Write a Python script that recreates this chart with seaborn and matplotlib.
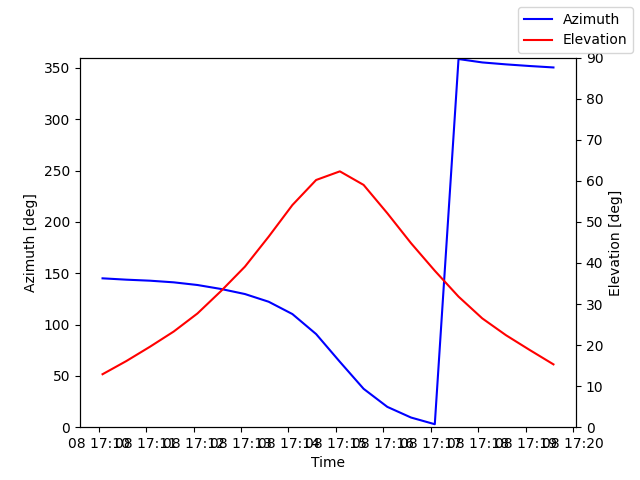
import matplotlib
matplotlib.use("Agg")
import matplotlib.pyplot as plt
import seaborn as sns
import pandas as pd

# pass samples, every 30 s
start_time = "2024-01-08 17:10:05"
n_points = 20
azimuth = [145.0, 143.7, 142.7, 141.1, 138.5, 134.6, 129.7, 122.2, 110.2, 90.7,
           63.7, 37.4, 19.8, 9.4, 2.9, 358.6, 355.3, 353.4, 351.8, 350.4]
elevation = [12.9, 16.1, 19.6, 23.3, 27.7, 33.2, 39.1, 46.4, 54.1, 60.2,
             62.3, 59.0, 52.1, 44.8, 38.1, 31.8, 26.5, 22.4, 18.8, 15.3]

times = pd.date_range(start_time, periods=n_points, freq="30s")
df = pd.DataFrame({"time": times, "azimuth": azimuth, "elevation": elevation})

fig, ax = plt.subplots(figsize=(6.4, 4.8), dpi=100)
sns.lineplot(data=df, x="time", y="azimuth", color="blue", label="Azimuth", ax=ax, legend=False)
ax.set_ylim(0, 360)
ax.set_xlabel("Time")
ax.set_ylabel("Azimuth [deg]")

ax2 = ax.twinx()
sns.lineplot(data=df, x="time", y="elevation", color="red", label="Elevation", ax=ax2, legend=False)
ax2.set_ylim(0, 90)
ax2.set_ylabel("Elevation [deg]")

fig.legend(loc="upper right")
fig.savefig("out.png", dpi=100)
